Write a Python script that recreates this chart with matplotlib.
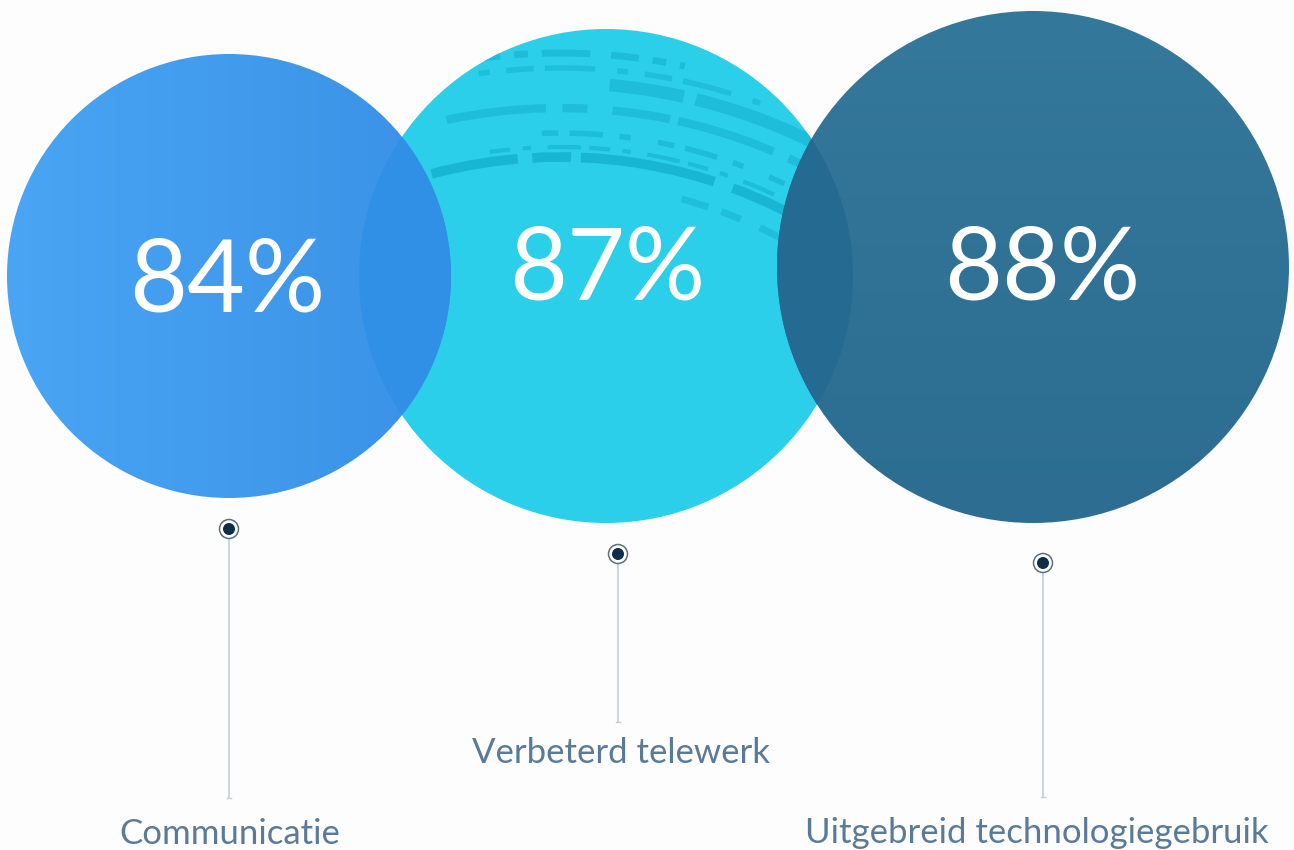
import matplotlib
matplotlib.use('Agg')
import matplotlib.pyplot as plt
from matplotlib.patches import Circle, Arc
import numpy as np

# values shown in the bubbles
labels = ["Communicatie", "Verbeterd telewerk", "Uitgebreid technologiegebruik"]
values = [84, 87, 88]

# layout in canvas pixels (y grows downwards)
bubble_x = [229, 606, 1033]
bubble_y = [276, 276, 267]
bubble_r = [222, 247, 256]
value_x = [227, 607, 1042]
value_base = [311, 300, 300]
pin_x = [229, 618, 1043]
pin_y = [529, 554, 563]
stem_end = [798, 722, 797]
label_x = [230, 621, 1037]
label_base = [844, 763, 843]

W, H = 1294, 850
fig = plt.figure(figsize=(W / 100, H / 100), dpi=100)
fig.patch.set_facecolor('#fdfdfd')
ax = fig.add_axes([0, 0, 1, 1])
ax.set_xlim(0, W)
ax.set_ylim(H, 0)
ax.set_aspect('equal')
ax.axis('off')


def bubble(i, **kw):
    return Circle((bubble_x[i], bubble_y[i]), bubble_r[i], **kw)


def gradient(i, c0, c1, horizontal=True, z=2):
    # fill a bubble with a two-colour linear gradient
    clip = bubble(i, facecolor='none', edgecolor='none', zorder=z)
    ax.add_patch(clip)
    t = np.linspace(0, 1, 256)
    a = np.array(matplotlib.colors.to_rgb(c0))
    b = np.array(matplotlib.colors.to_rgb(c1))
    img = a[None, :] + (b - a)[None, :] * t[:, None]
    img = img[None, :, :] if horizontal else img[:, None, :]
    x, y, r = bubble_x[i], bubble_y[i], bubble_r[i]
    im = ax.imshow(img, extent=(x - r, x + r, y + r, y - r), zorder=z,
                   interpolation='bilinear', aspect='auto')
    im.set_clip_path(clip)


# middle bubble sits underneath
ax.add_patch(bubble(1, facecolor='#2bcfe9', edgecolor='none', zorder=1))
clip2 = bubble(1, facecolor='none', edgecolor='none', zorder=1)
ax.add_patch(clip2)
# brushed strokes across the top of the middle bubble
strokes = [(496, 255, 302, 7, 0.8, (0, (9, 1.5, 4, 1, 14, 2))),
           (506, 262, 296, 3, 0.6, (0, (5, 3, 2, 4, 8, 2))),
           (520, 268, 300, 4, 0.6, (0, (3, 2, 6, 3, 2, 5))),
           (545, 258, 300, 6, 0.55, (0, (12, 2, 3, 3, 7, 1))),
           (570, 275, 305, 9, 0.55, (0, (6, 1, 10, 2, 3, 2))),
           (585, 262, 290, 4, 0.5, (0, (2, 3, 5, 2, 9, 4))),
           (600, 255, 282, 5, 0.6, (0, (7, 3, 4, 2, 2, 2))),
           (470, 285, 304, 5, 0.5, (0, (4, 2, 3, 3, 8, 2)))]
for R, t1, t2, lw, al, ls in strokes:
    arc = Arc((560, 653), 2 * R, 2 * R, theta1=t1, theta2=t2,
              color='#14b0cf', lw=lw, alpha=al, ls=ls, zorder=1.5)
    ax.add_patch(arc)
    arc.set_clip_path(clip2)

gradient(0, '#4aa5f4', '#3a91e6', horizontal=True)
gradient(2, '#34789c', '#2c6d91', horizontal=False)

# darker tint where the bubbles overlap
for i, col in [(0, '#3090e6'), (2, '#246a91')]:
    lens = bubble(i, facecolor=col, edgecolor='none', zorder=3)
    ax.add_patch(lens)
    lens.set_clip_path(clip2)

for i, v in enumerate(values):
    ax.text(value_x[i], value_base[i], f"{v}%", color='white', fontsize=72,
            family='Lato', weight='normal', ha='center', va='baseline',
            zorder=5)

    # pin, stem and caption
    ax.plot([pin_x[i], pin_x[i]], [pin_y[i] + 10, stem_end[i]],
            color='#c4cfd8', lw=1.2, zorder=4, solid_capstyle='butt')
    ax.plot([pin_x[i] - 2, pin_x[i] + 2], [stem_end[i], stem_end[i]],
            color='#c4cfd8', lw=1.0, zorder=4)
    ax.add_patch(Circle((pin_x[i], pin_y[i]), 9.5, facecolor='white',
                        edgecolor='#5d6e7c', lw=1.1, zorder=6))
    ax.add_patch(Circle((pin_x[i], pin_y[i]), 6, facecolor='#0d2d49',
                        edgecolor='none', zorder=7))
    ax.text(label_x[i], label_base[i], labels[i], color='#5a7b98',
            fontsize=25, family='Lato', ha='center', va='baseline', zorder=5)

fig.savefig('out.png', dpi=100, facecolor=fig.get_facecolor())
